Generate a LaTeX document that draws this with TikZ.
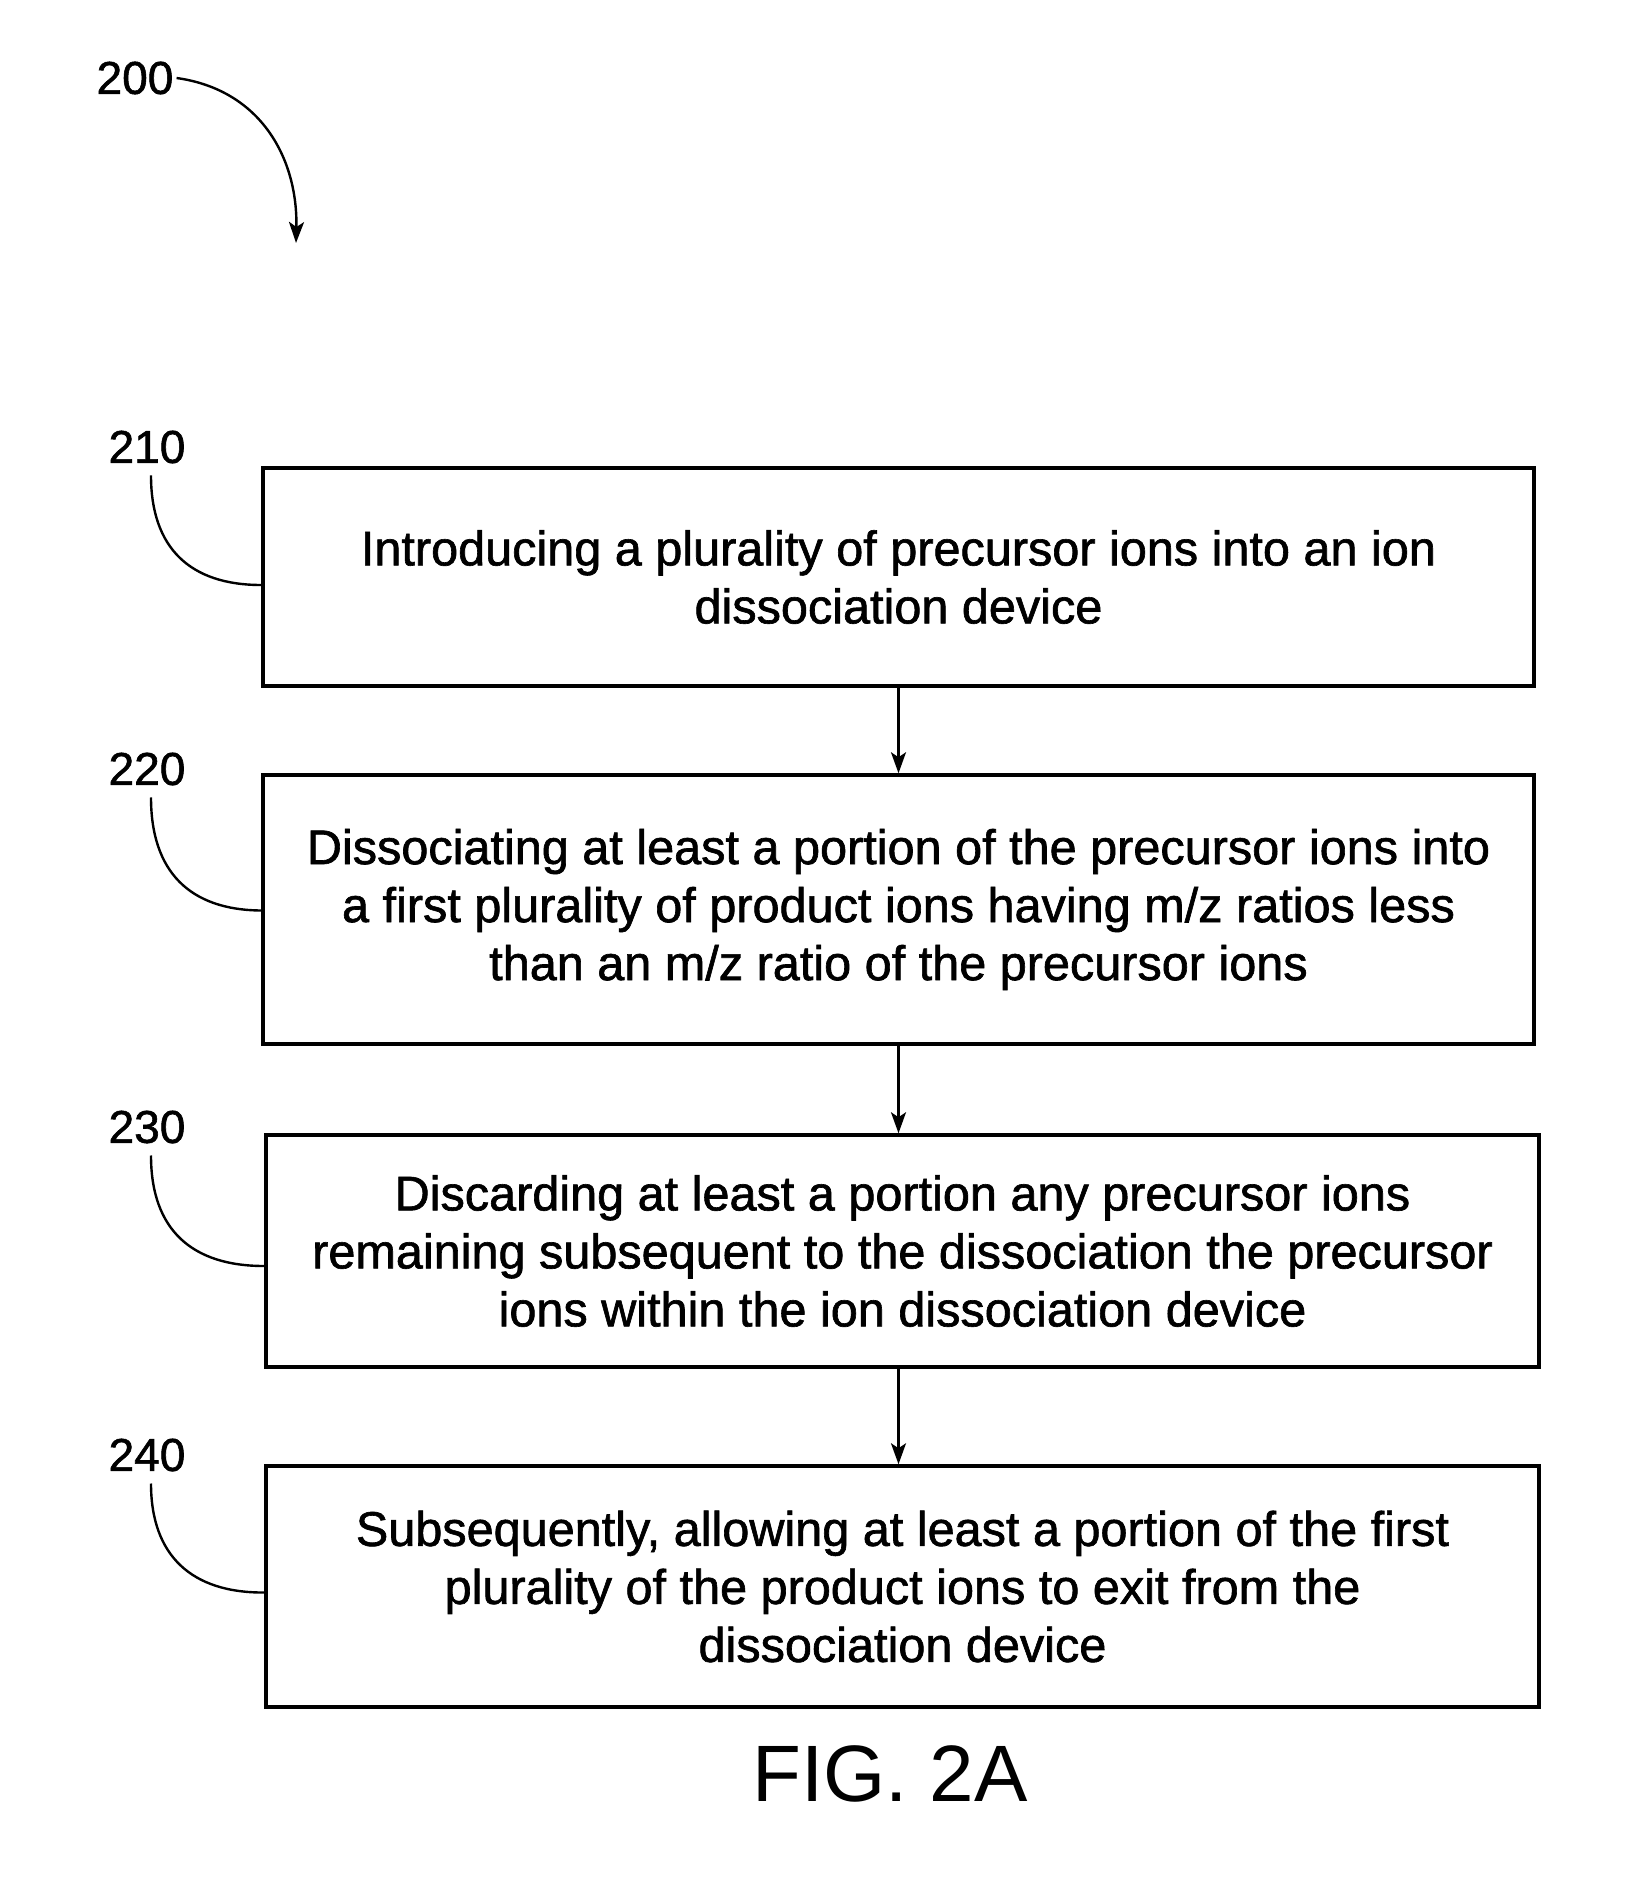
\documentclass[tikz,border=0pt]{standalone}
\usepackage{fontspec}
\setmainfont{Liberation Sans}
\newfontfamily\heavyfont[FakeBold=1.3]{Liberation Sans}
\usetikzlibrary{arrows.meta}
\begin{document}
\begin{tikzpicture}[x=1pt,y=-1pt,
  box/.style={draw, line width=3.5pt, inner sep=0pt, align=center,
    font=\heavyfont\fontsize{48.6}{58}\selectfont},
  lbl/.style={inner sep=0pt, font=\heavyfont\fontsize{46}{46}\selectfont},
  leader/.style={line width=2.4pt},
  flow/.style={line width=2.4pt, -{Stealth[length=21pt,width=15pt,inset=5pt]}}]
\useasboundingbox (0,0) rectangle (1638,1890);

\node[box, minimum width=1271pt, minimum height=218pt] (b1) at (898.5,577)
  {Introducing a plurality of precursor ions into an ion\\dissociation device};
\node[box, minimum width=1271pt, minimum height=269pt] (b2) at (898.5,909.5)
  {Dissociating at least a portion of the precursor ions into\\a first plurality of product ions having m/z ratios less\\than an m/z ratio of the precursor ions};
\node[box, minimum width=1273pt, minimum height=232pt] (b3) at (902.5,1251)
  {Discarding at least a portion any precursor ions\\remaining subsequent to the dissociation the precursor\\ions within the ion dissociation device};
\node[box, minimum width=1273pt, minimum height=241pt] (b4) at (902.5,1586.5)
  {Subsequently, allowing at least a portion of the first\\plurality of the product ions to exit from the\\dissociation device};

\node[lbl] (l200) at (135,78) {200};
\node[lbl] (l210) at (147,447) {210};
\node[lbl] (l220) at (147,769) {220};
\node[lbl] (l230) at (147,1127) {230};
\node[lbl] (l240) at (147,1455) {240};

\node[inner sep=0pt, font=\fontsize{80}{80}\selectfont] (fig) at (890,1774) {FIG. 2A};

% flow arrows
\draw[flow] (b1.south) -- (b2.north);
\draw[flow] (b2.south) -- (b3.north -| b2.south);
\draw[flow] (b3.south -| b2.south) -- (b4.north -| b2.south);

% reference arrow 200
\coordinate (a200) at (296,243);
\draw[flow] ([xshift=3pt]l200.east) .. controls (262,90) and (298,160) .. (a200);

% leaders
\draw[leader] ([shift={(4pt,-12pt)}]l210.south) .. controls (151,548) and (190,585) .. ([yshift=-8pt]b1.west);
\draw[leader] ([shift={(4pt,-12pt)}]l220.south) .. controls (151,872) and (190,910) .. ([yshift=-1pt]b2.west);
\draw[leader] ([shift={(4pt,-12pt)}]l230.south) .. controls (151,1230) and (192,1266) .. ([yshift=-15pt]b3.west);
\draw[leader] ([shift={(4pt,-12pt)}]l240.south) .. controls (151,1556) and (192,1593) .. ([yshift=-6pt]b4.west);
\end{tikzpicture}
\end{document}
